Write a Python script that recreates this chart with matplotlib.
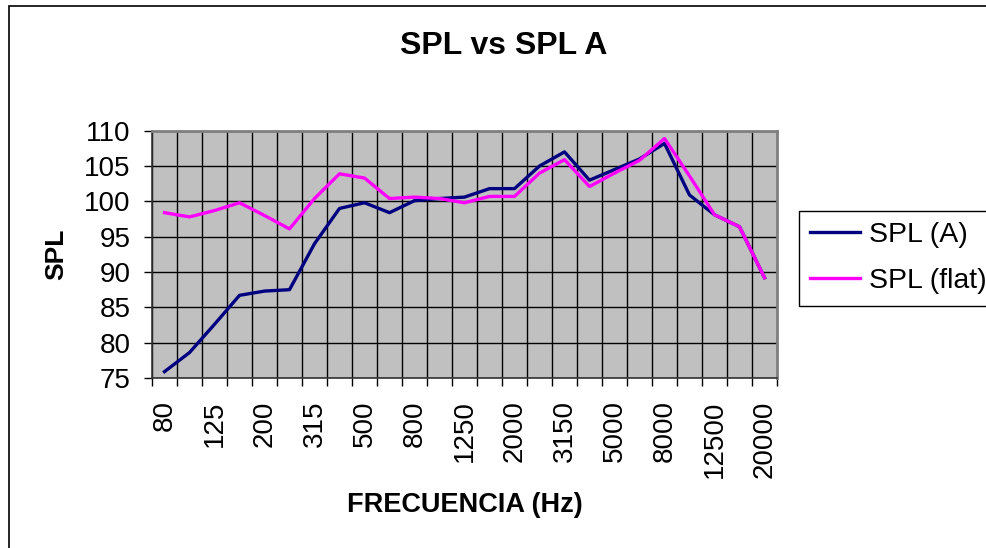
import numpy as np
import matplotlib
matplotlib.use("Agg")
import matplotlib.pyplot as plt
from matplotlib.patches import Rectangle

freqs = ["80", "100", "125", "160", "200", "250", "315", "400", "500", "630",
         "800", "1000", "1250", "1600", "2000", "2500", "3150", "4000", "5000",
         "6300", "8000", "10000", "12500", "16000", "20000"]
spl_a = [75.9, 78.6, 82.6, 86.7, 87.3, 87.5, 94.0, 99.0, 99.8, 98.4,
         100.1, 100.4, 100.6, 101.8, 101.8, 105.0, 107.0, 103.0, 104.5,
         106.0, 108.2, 100.9, 98.1, 96.4, 89.2]
spl_flat = [98.4, 97.8, 98.7, 99.8, 98.0, 96.1, 100.4, 103.9, 103.3, 100.4,
            100.6, 100.4, 99.8, 100.7, 100.7, 104.0, 105.9, 102.1, 104.0,
            105.8, 108.9, 103.6, 98.1, 96.4, 89.2]

plt.rcParams['font.family'] = ['Liberation Sans', 'DejaVu Sans']

fig = plt.figure(figsize=(9.87, 5.48), dpi=100)
W, H = 987.0, 548.0

# outer chart border (Excel chart area)
fig.patches.append(Rectangle((9 / W, -0.1), 1.2, 1 - 6 / H + 0.1,
                             transform=fig.transFigure, fill=False,
                             edgecolor='black', linewidth=1.2))

ax = fig.add_axes([152 / W, 1 - 378 / H, 625 / W, 247.3 / H])
ax.set_facecolor('#C0C0C0')

x = np.arange(len(freqs))
ax.plot(x, spl_a, color='#000080', linewidth=2.4, label='SPL (A)', zorder=3)
ax.plot(x, spl_flat, color='#FF00FF', linewidth=2.4, label='SPL (flat)', zorder=4)

ax.set_xlim(-0.5, len(freqs) - 0.5)
ax.set_ylim(75, 110)
ax.set_yticks(np.arange(75, 111, 5))

# gridlines / tick marks at category boundaries, labels on every 2nd category
ax.set_xticks(np.arange(-0.5, len(freqs), 1.0))
ax.set_xticklabels([])
ax.set_xticks(x[::2], minor=True)
ax.set_xticklabels(freqs[::2], minor=True, rotation=90, va='top')
ax.tick_params(axis='x', which='major', direction='out', length=5.5, width=1)
ax.tick_params(axis='x', which='minor', length=0, pad=16, labelsize=20)
ax.tick_params(axis='y', direction='out', length=5.5, width=1, pad=10, labelsize=20)

ax.grid(True, which='major', color='black', linewidth=1)
ax.set_axisbelow(True)

for s in ['top', 'right']:
    ax.spines[s].set_color('#808080')
    ax.spines[s].set_linewidth(2)
for s in ['left', 'bottom']:
    ax.spines[s].set_color('#333333')
    ax.spines[s].set_linewidth(1.2)

fig.text(504 / W, 1 - 46 / H, "SPL vs SPL A", ha='center', va='center',
         fontsize=23, fontweight='bold')
ax.set_xlabel("FRECUENCIA (Hz)", fontsize=19.5, fontweight='bold')
ax.xaxis.set_label_coords(0.5, -0.46)
ax.set_ylabel("SPL", fontsize=19, fontweight='bold')
ax.yaxis.set_label_coords(-0.134, 0.5)

leg = ax.legend(loc='upper left', bbox_to_anchor=(799 / W, 1 - 211 / H),
                bbox_transform=fig.transFigure, frameon=True, fancybox=False,
                edgecolor='black', framealpha=1, borderaxespad=0,
                handlelength=1.75, handletextpad=0.3, labelspacing=0.7,
                borderpad=0.4, fontsize=20.5)
leg.get_frame().set_linewidth(1)

plt.savefig("out.png", dpi=100)
